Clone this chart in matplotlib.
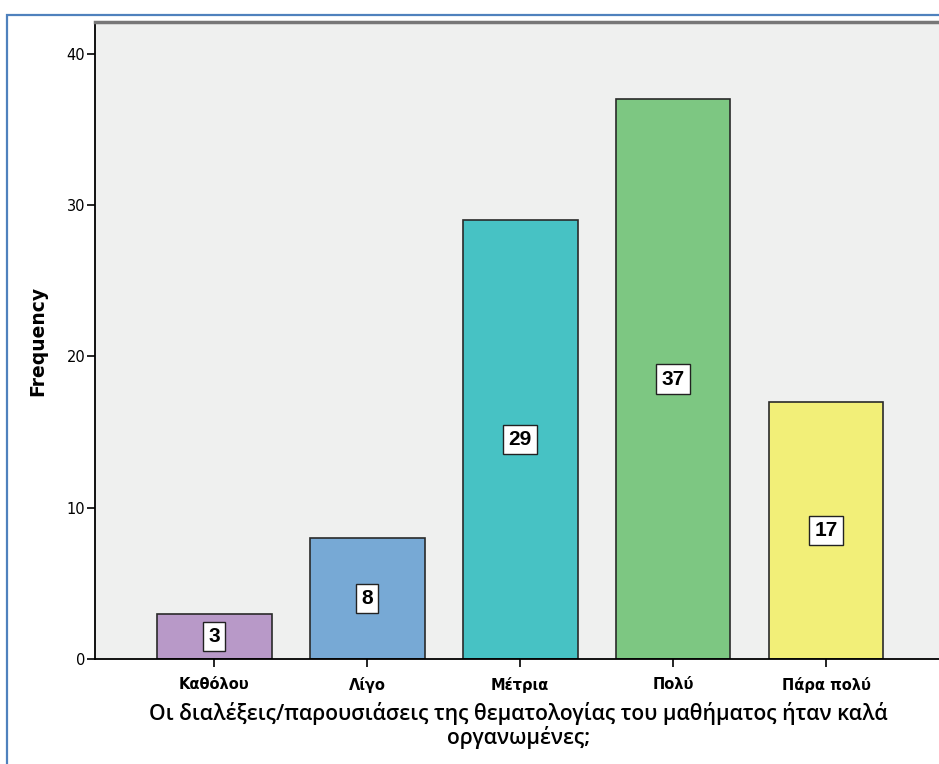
import matplotlib.pyplot as plt
from matplotlib.patches import Rectangle

# data
categories = ['Καθόλου', 'Λίγο', 'Μέτρια', 'Πολύ', 'Πάρα πολύ']
counts = [3, 8, 29, 37, 17]
colors = ['#B899C8', '#77A9D5', '#47C2C4', '#7DC782', '#F2EF78']

fig = plt.figure(figsize=(9.39, 7.64), dpi=100)
fig.patch.set_facecolor('white')

# blue frame of the screenshot
fig.add_artist(Rectangle((7 / 939, -0.01), 1.0, 1 - 15 / 764 + 0.01,
                         transform=fig.transFigure, fill=False,
                         edgecolor='#4F81BD', linewidth=1.6, zorder=0))

ax = fig.add_axes([95 / 939, 1 - 659 / 764, 1 - 95 / 939 + 0.01, (659 - 22) / 764])
ax.set_facecolor('#EFF0EF')

x = list(range(len(categories)))
bars = ax.bar(x, counts, width=0.75, color=colors, edgecolor='#2a2a2a', linewidth=1.2, zorder=2)

for xi, c in zip(x, counts):
    ax.text(xi, c / 2, str(c), ha='center', va='center', fontsize=15, fontweight='bold',
            family='Liberation Sans',
            bbox=dict(boxstyle='square,pad=0.25', facecolor='white', edgecolor='#222222', linewidth=1),
            zorder=3)

ax.set_xlim(-0.78, 4.8)
ax.set_ylim(0, 42.1)
ax.set_yticks([0, 10, 20, 30, 40])
ax.set_xticks(x)
ax.set_xticklabels(categories, fontsize=10.5, fontweight='bold', family='DejaVu Sans')
ax.tick_params(axis='y', labelsize=10.5, length=6, width=1.2, pad=1)
ax.tick_params(axis='x', length=6, width=1.2, pad=7)

ax.spines['right'].set_visible(False)
ax.spines['top'].set_color('#777777')
ax.spines['top'].set_linewidth(2.5)
ax.spines['left'].set_linewidth(1.3)
ax.spines['bottom'].set_linewidth(1.3)

ax.set_ylabel('Frequency', fontsize=13.5, fontweight='bold', family='DejaVu Sans')
ax.yaxis.set_label_coords(-48 / 853, 0.5)
ax.set_xlabel('Οι διαλέξεις/παρουσιάσεις της θεματολογίας του μαθήματος ήταν καλά\nοργανωμένες;',
              fontsize=15.2, family='Open Sans', fontweight='semibold', linespacing=1.05)
ax.xaxis.set_label_coords((518 - 95) / 853, -(702 - 659) / 637)

fig.savefig('out.png', dpi=100)
